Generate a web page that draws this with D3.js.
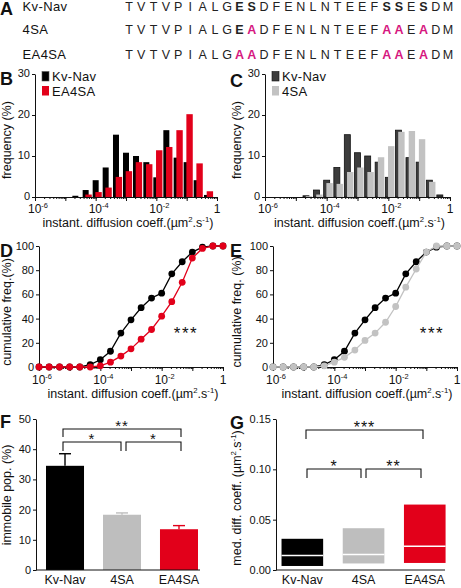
<!DOCTYPE html>
<html><head><meta charset="utf-8">
<script src="https://cdn.jsdelivr.net/npm/d3@7"></script>
<style>
body{margin:0;background:#fff}
svg{display:block}
text{font-family:"Liberation Sans",Arial,Helvetica,sans-serif;fill:#111}
</style>
</head><body>
<svg id="c" width="461" height="588"></svg>
<script>
// ---------------- DATA ----------------
const seqNames = ["Kv-Nav", "4SA", "EA4SA"];
const seqRows = [
  "TVTVPIALGESDFENLNTEEFSSESDM",
  "TVTVPIALGEADFENLNTEEFAAEADM",
  "TVTVPIALGAADFENLNTEEFAAEADM"
];
const seqBold = [[9, 10, 21, 22, 24], [9], []];
const seqMagenta = [[], [10, 21, 22, 24], [9, 10, 21, 22, 24]];

// histogram bins (log10 of diffusion coefficient, bin centres)
const binExp = [-4.67, -4.33, -4, -3.67, -3.33, -3, -2.67, -2.33, -2, -1.67, -1.33, -1, -0.67, -0.33];
const histKvNav = [0.3, 1.7, 4.1, 7.2, 15.2, 10.8, 10.0, 8.5, 4.8, 16.3, 9.6, 8.5, 4.1, 0.5];
const histEA4SA = [0, 0.6, 1.2, 2.3, 4.9, 6.3, 8.5, 8.0, 11.4, 12.2, 16.3, 20.2, 8.2, 1.4];
const hist4SA = [0.2, 0.6, 3.4, 3.2, 6.1, 7.2, 6.1, 9.7, 12.4, 15.9, 16.1, 14.1, 3.7, 0];
const histTicks = [0, 10, 20, 30];

// cumulative frequencies
const cumExp = [-6, -5.67, -5.33, -5, -4.67, -4.33, -4, -3.67, -3.33, -3, -2.67, -2.33, -2, -1.67, -1.33, -1, -0.67, -0.33, 0];
const cumKvNav = [0, 0, 0, 0, 0, 2, 6, 13, 28, 39, 49, 57, 61, 77, 87, 95, 99, 100, 100];
const cumEA4SA = [0, 0, 0, 0, 0, 0, 1, 4, 9, 15, 23, 31, 42, 54, 70, 90, 98, 100, 100];
const cum4SA = [0, 0, 0, 0, 0, 1, 4, 8, 14, 22, 28, 37, 50, 66, 81, 95, 100, 100, 100];
const cumTicks = [0, 20, 40, 60, 80, 100];

// immobile population
const groups = ["Kv-Nav", "4SA", "EA4SA"];
const immobileMean = [34.5, 18.3, 13.5];
const immobileErr = [4.0, 0.6, 1.2];
const immobileTicks = [0, 10, 20, 30, 40, 50];

// median diffusion coefficient (IQR boxes)
const medQ1 = [0.004, 0.0065, 0.007];
const medMedian = [0.0145, 0.0155, 0.0235];
const medQ3 = [0.031, 0.0415, 0.065];
const medTicks = [0, 0.05, 0.10, 0.15];

// ---------------- STYLE ----------------
const RED = "#e2001a", GRAY = "#c2c2c2", MAG = "#d6187f";
const svg = d3.select("#c");

function supText(sel, parts, fs) {
  parts.forEach(([t, sup], i) => {
    const prevSup = i > 0 && parts[i - 1][1];
    let dy = 0;
    if (sup && !prevSup) dy = -fs * 0.4;
    if (!sup && prevSup) dy = fs * 0.4;
    sel.append("tspan").attr("dy", dy).attr("font-size", sup ? fs * 0.62 : fs).text(t);
  });
}
const unitParts = [["instant. diffusion coeff.(\u00b5m", false], ["2", true], [".s", false], ["-1", true], [")", false]];

function panelLetter(t, x, y) {
  svg.append("text").attr("x", x).attr("y", y).attr("font-size", 18).attr("font-weight", "bold").text(t);
}
function yTitle(parts, x, y, fs) {
  const t = svg.append("text").attr("transform", `translate(${x},${y}) rotate(-90)`)
    .attr("text-anchor", "middle").attr("font-size", fs);
  supText(t, parts, fs);
}
function styleAxis(g) {
  g.selectAll("path,line").attr("stroke", "#111").attr("stroke-width", 1);
  g.selectAll("text").attr("font-size", 11).attr("fill", "#111");
}

function logAxis(xs, y0, labelY, titleY) {
  const minor = [];
  for (let e = -6; e < 0; e++) for (let m = 1; m < 10; m++) minor.push(m * Math.pow(10, e));
  minor.push(1);
  const majors = [1e-6, 1e-5, 1e-4, 1e-3, 1e-2, 1e-1, 1];
  const g1 = svg.append("g").attr("transform", `translate(0,${y0})`)
    .call(d3.axisBottom(xs).tickValues(minor).tickSize(2).tickSizeOuter(0).tickFormat(""));
  styleAxis(g1);
  const g2 = svg.append("g").attr("transform", `translate(0,${y0})`)
    .call(d3.axisBottom(xs).tickValues(majors).tickSize(4).tickSizeOuter(0).tickFormat(""));
  styleAxis(g2);
  g2.select(".domain").remove();
  [[1e-6, "-6"], [1e-4, "-4"], [1e-2, "-2"], [1, null]].forEach(([v, ex]) => {
    const t = svg.append("text").attr("x", xs(v) + (ex ? 3 : 0)).attr("y", labelY).attr("text-anchor", "middle");
    if (ex) supText(t, [["10", false], [ex, true]], 12);
    else t.attr("font-size", 12).text("1");
  });
  const r = xs.range();
  const tt = svg.append("text").attr("x", (r[0] + r[1]) / 2 + 2).attr("y", titleY).attr("text-anchor", "middle");
  supText(tt, unitParts, 12.5);
}

// ---------------- PANEL A ----------------
panelLetter("A", 0, 15);
const rowY = [10.5, 33.5, 58.5];
seqNames.forEach((n, r) => {
  svg.append("text").attr("x", 22.5).attr("y", rowY[r]).attr("font-size", 13).attr("letter-spacing", 0.4).text(n);
  seqRows[r].split("").forEach((ch, i) => {
    const mag = seqMagenta[r].includes(i), bold = seqBold[r].includes(i) || mag;
    svg.append("text").attr("x", 129 + i * 12.27).attr("y", rowY[r]).attr("text-anchor", "middle")
      .attr("font-size", 12.5).attr("font-weight", bold ? "bold" : "normal")
      .style("fill", mag ? MAG : "#222").text(ch);
  });
});

// ---------------- HISTOGRAMS B, C ----------------
function histogram(x0, x1, colored, colFill, blackFill, blackStroke, legendName) {
  const xs = d3.scaleLog().domain([1e-6, 1]).range([x0, x1]);
  const ys = d3.scaleLinear().domain([0, 30]).range([197, 74]);
  const gb = svg.append("g");
  gb.selectAll("rect").data(histKvNav).join("rect")
    .attr("x", (d, i) => xs(Math.pow(10, binExp[i])) - 3)
    .attr("width", 6)
    .attr("y", d => ys(d)).attr("height", d => ys(0) - ys(d))
    .attr("fill", blackFill).attr("stroke", blackStroke).attr("stroke-width", blackStroke === "none" ? 0 : 0.8);
  const gc = svg.append("g");
  gc.selectAll("rect").data(colored).join("rect")
    .attr("x", (d, i) => xs(Math.pow(10, binExp[i])) - 0.3)
    .attr("width", 6.4)
    .attr("y", d => ys(d)).attr("height", d => ys(0) - ys(d))
    .attr("fill", colFill);
  const ya = svg.append("g").attr("transform", `translate(${x0},0)`)
    .call(d3.axisLeft(ys).tickValues(histTicks).tickSize(3).tickSizeOuter(0).tickPadding(2));
  styleAxis(ya);
  ya.selectAll(".tick text").attr("dy", "0.25em");
  logAxis(xs, 197, 213, 226.5);
  yTitle([["frequency (%)", false]], x0 - 24.5, 140, 12.5);
  // legend
  svg.append("rect").attr("x", x0 + 7).attr("y", 71.5).attr("width", 7).attr("height", 9.5)
    .attr("fill", blackFill).attr("stroke", blackStroke === "none" ? "#555" : blackStroke).attr("stroke-width", 0.6);
  svg.append("rect").attr("x", x0 + 7).attr("y", 86).attr("width", 7).attr("height", 9.5).attr("fill", colFill);
  svg.append("text").attr("x", x0 + 17).attr("y", 81).attr("font-size", 13).attr("letter-spacing", 0.3).text("Kv-Nav");
  svg.append("text").attr("x", x0 + 17).attr("y", 96).attr("font-size", 13).attr("letter-spacing", 0.3).text(legendName);
}
panelLetter("B", 0, 85);
histogram(35, 217, histEA4SA, RED, "#000", "none", "EA4SA");
panelLetter("C", 230, 87);
histogram(265, 450, hist4SA, GRAY, "#3c3c3c", "#111", "4SA");

// ---------------- CUMULATIVE D, E ----------------
function cumulative(x0, x1, colored, colColor, starX) {
  const xs = d3.scaleLog().domain([1e-6, 1]).range([x0, x1]);
  const ys = d3.scaleLinear().domain([0, 100]).range([367, 246]);
  const ya = svg.append("g").attr("transform", `translate(${x0},0)`)
    .call(d3.axisLeft(ys).tickValues(cumTicks).tickSize(3).tickSizeOuter(0).tickPadding(2));
  styleAxis(ya);
  logAxis(xs, 367, 384, 398);
  const line = d3.line().x((d, i) => xs(Math.pow(10, cumExp[i]))).y(d => ys(d));
  [[cumKvNav, "#000"], [colored, colColor]].forEach(([arr, col]) => {
    svg.append("path").datum(arr).attr("d", line).attr("fill", "none").attr("stroke", col).attr("stroke-width", 1.3);
    svg.append("g").selectAll("circle").data(arr).join("circle")
      .attr("cx", (d, i) => xs(Math.pow(10, cumExp[i]))).attr("cy", d => ys(d)).attr("r", 3.4).attr("fill", col);
  });
  svg.append("text").attr("x", starX).attr("y", 339).attr("text-anchor", "middle")
    .attr("font-size", 17).attr("letter-spacing", 1.5).text("***");
}
panelLetter("D", 0, 257);
cumulative(39, 223, cumEA4SA, RED, 186);
yTitle([["cumulative freq.(%)", false]], 10.5, 312, 12.5);
panelLetter("E", 230, 257);
cumulative(273, 457, cum4SA, GRAY, 432);
yTitle([["cumulative freq. (%)", false]], 240.5, 312, 12.5);

// ---------------- F: immobile population ----------------
panelLetter("F", 0, 428);
{
  const xb = d3.scaleBand().domain(groups).range([40.3, 203.7]).paddingInner(0.333).paddingOuter(0.1);
  const ys = d3.scaleLinear().domain([0, 50]).range([570, 419]);
  const cols = ["#000", "#bebebe", RED];
  const g = svg.append("g");
  g.selectAll("rect").data(immobileMean).join("rect")
    .attr("x", (d, i) => xb(groups[i])).attr("width", xb.bandwidth())
    .attr("y", d => ys(d)).attr("height", d => ys(0) - ys(d)).attr("fill", (d, i) => cols[i]);
  immobileMean.forEach((m, i) => {
    const cx = xb(groups[i]) + xb.bandwidth() / 2;
    svg.append("line").attr("x1", cx).attr("x2", cx).attr("y1", ys(m)).attr("y2", ys(m + immobileErr[i]))
      .attr("stroke", cols[i]).attr("stroke-width", 1.4);
    svg.append("line").attr("x1", cx - 6).attr("x2", cx + 6).attr("y1", ys(m + immobileErr[i])).attr("y2", ys(m + immobileErr[i]))
      .attr("stroke", cols[i]).attr("stroke-width", 1.4);
  });
  const ya = svg.append("g").attr("transform", "translate(36,0)")
    .call(d3.axisLeft(ys).tickValues(immobileTicks).tickSize(3).tickSizeOuter(0).tickPadding(2));
  styleAxis(ya);
  const xa = svg.append("g").attr("transform", "translate(0,570)").call(d3.axisBottom(xb).tickSize(0).tickPadding(5));
  styleAxis(xa);
  xa.select(".domain").remove();
  xa.selectAll("text").attr("font-size", 12.5);
  svg.append("line").attr("x1", 36).attr("x2", 200).attr("y1", 570).attr("y2", 570).attr("stroke", "#111");
  yTitle([["immobile pop. (%)", false]], 10.5, 495, 12.5);
  const br = (xa1, xa2, y, leg, label) => {
    svg.append("path").attr("d", `M${xa1},${y + leg}V${y}H${xa2}V${y + leg}`).attr("fill", "none").attr("stroke", "#111").attr("stroke-width", 1.1);
    svg.append("text").attr("x", (xa1 + xa2) / 2).attr("y", y + 2).attr("text-anchor", "middle").attr("font-size", 15).attr("letter-spacing", 1).text(label);
  };
  br(63, 181, 429, 8, "**");
  br(63, 121, 442, 9, "*");
  br(126, 181, 442, 9, "*");
}

// ---------------- G: median diffusion coefficient ----------------
panelLetter("G", 230, 429);
{
  const xb = d3.scaleBand().domain(groups).range([275.4, 451.7]).paddingInner(0.32).paddingOuter(0.1);
  const ys = d3.scaleLinear().domain([0, 0.15]).range([570, 419]);
  const cols = ["#000", "#bebebe", RED];
  svg.append("g").selectAll("rect").data(medQ3).join("rect")
    .attr("x", (d, i) => xb(groups[i])).attr("width", xb.bandwidth())
    .attr("y", d => ys(d)).attr("height", (d, i) => ys(medQ1[i]) - ys(d)).attr("fill", (d, i) => cols[i]);
  svg.append("g").selectAll("line").data(medMedian).join("line")
    .attr("x1", (d, i) => xb(groups[i])).attr("x2", (d, i) => xb(groups[i]) + xb.bandwidth())
    .attr("y1", d => ys(d)).attr("y2", d => ys(d)).attr("stroke", "#fff").attr("stroke-width", 1.5);
  const ya = svg.append("g").attr("transform", "translate(276,0)")
    .call(d3.axisLeft(ys).tickValues(medTicks).tickSize(3).tickSizeOuter(0).tickPadding(2).tickFormat(d3.format(".2f")));
  styleAxis(ya);
  const xa = svg.append("g").attr("transform", "translate(0,570)").call(d3.axisBottom(xb).tickSize(0).tickPadding(5));
  styleAxis(xa);
  xa.select(".domain").remove();
  xa.selectAll("text").attr("font-size", 12.5);
  svg.append("line").attr("x1", 276).attr("x2", 445).attr("y1", 570).attr("y2", 570).attr("stroke", "#111");
  yTitle([["med. diff. coeff. (\u00b5m", false], ["2", true], [".s", false], ["-1", true], [")", false]], 240.5, 498, 12.5);
  const br = (xa1, xa2, y, leg, label) => {
    svg.append("path").attr("d", `M${xa1},${y + leg}V${y}H${xa2}V${y + leg}`).attr("fill", "none").attr("stroke", "#111").attr("stroke-width", 1.1);
    svg.append("text").attr("x", (xa1 + xa2) / 2).attr("y", y + 3).attr("text-anchor", "middle").attr("font-size", 16).attr("letter-spacing", 1).text(label);
  };
  br(306, 423, 430, 9, "***");
  br(307, 361, 469, 9, "*");
  br(366, 421, 469, 9, "**");
}
</script>
</body></html>
